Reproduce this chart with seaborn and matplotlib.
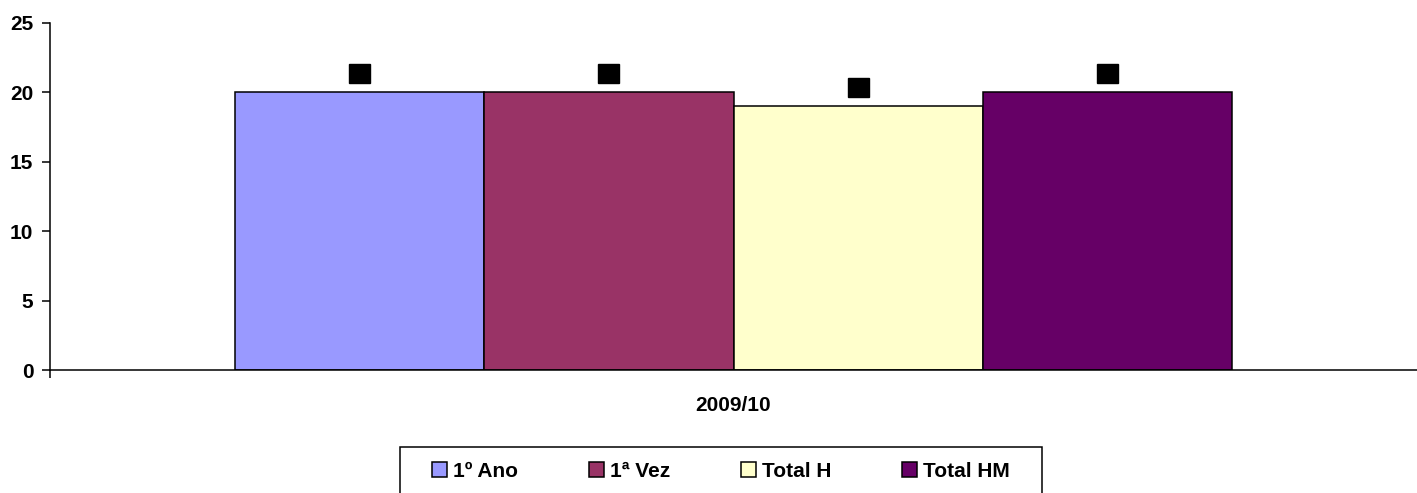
import pandas as pd
import matplotlib.pyplot as plt
import seaborn as sns
from matplotlib.patches import Rectangle

# data
anos = ['2009/10']
series = ['1º Ano', '1ª Vez', 'Total H', 'Total HM']
valores = [20, 20, 19, 20]
cores = ['#9999FF', '#993366', '#FFFFCC', '#660066']

df = pd.DataFrame({
    'ano': anos * len(series),
    'serie': series,
    'valor': valores,
})

sns.set_style('white')
plt.rcParams['font.family'] = ['Liberation Sans', 'DejaVu Sans']
plt.rcParams['font.weight'] = 'bold'
plt.rcParams['text.color'] = 'black'
plt.rcParams['xtick.color'] = 'black'
plt.rcParams['ytick.color'] = 'black'

fig = plt.figure(figsize=(14.17, 4.93), dpi=100)
ax = fig.add_axes([50 / 1417, 1 - 370 / 493, 1 - 50 / 1417, (370 - 23) / 493])

sns.barplot(data=df, x='ano', y='valor', hue='serie', hue_order=series,
            palette=cores, saturation=1, width=0.73, edgecolor='black',
            linewidth=1.1, ax=ax)

# data labels shown as black boxes
for cont in ax.containers:
    ax.bar_label(cont, fmt='%d', padding=9, color='black', fontsize=9,
                 bbox=dict(facecolor='black', edgecolor='black', pad=2.5))

ax.set_ylim(0, 25)
ax.set_xlim(-0.5, 0.5)
ax.set_yticks(range(0, 26, 5))
ax.set_xlabel('')
ax.set_ylabel('')
for s in ['top', 'right']:
    ax.spines[s].set_visible(False)
for s in ['left', 'bottom']:
    ax.spines[s].set_color('black')
    ax.spines[s].set_linewidth(1.1)

ax.tick_params(axis='y', left=True, direction='out', length=6, width=1.1,
               color='black', labelcolor='black', labelsize=15, pad=6)
ax.tick_params(axis='x', which='major', length=0, labelsize=15, pad=19,
               labelcolor='black')
ax.set_xticks([-0.5], minor=True)
ax.tick_params(axis='x', which='minor', bottom=True, direction='out', length=6,
               width=1.1, color='black')
for t in ax.get_xticklabels() + ax.get_yticklabels():
    t.set_fontweight('bold')

# legend without its own frame; the box is drawn separately (wider than tall padding)
handles, labels = ax.get_legend_handles_labels()
ax.get_legend().remove()
leg = fig.legend(handles, labels, loc='upper center', ncol=4,
                 bbox_to_anchor=(721 / 1417, 1 - 447 / 493),
                 prop={'size': 15, 'weight': 'bold'}, frameon=False,
                 handlelength=0.7, handleheight=0.7, handletextpad=0.3,
                 columnspacing=3.4, borderpad=0.7, borderaxespad=0)
for t in leg.get_texts():
    t.set_color('black')
fig.patches.append(Rectangle((400 / 1417, -0.05), 642 / 1417, (1 - 447 / 493) + 0.05,
                             transform=fig.transFigure, fill=False,
                             edgecolor='black', linewidth=1.1))

fig.savefig('out.png', dpi=100)
